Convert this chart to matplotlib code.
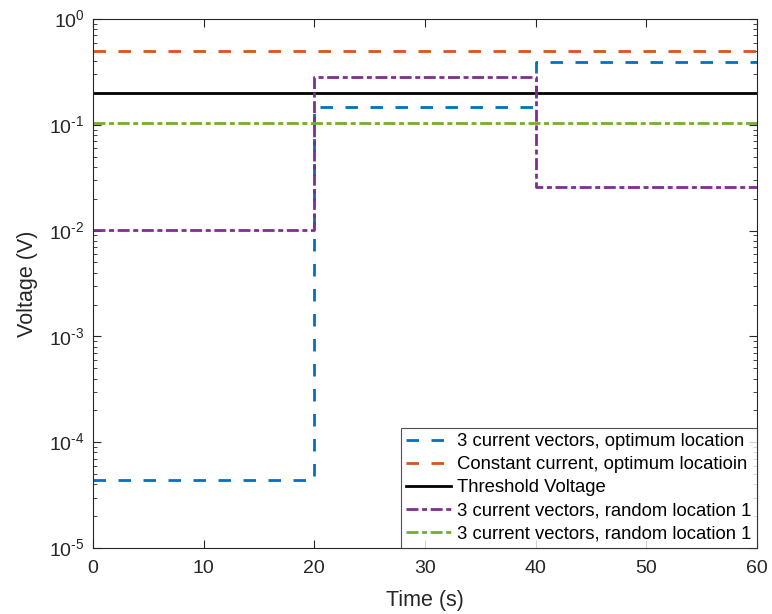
import matplotlib
matplotlib.use('Agg')
import matplotlib.pyplot as plt
from matplotlib.ticker import FixedFormatter
import numpy as np

# step times (s)
t = [0, 20, 40, 60]

# voltages per interval (V), last value repeated for the step plot
v_opt = [4.4e-5, 0.148, 0.39, 0.39]
v_const = [0.5, 0.5, 0.5, 0.5]
v_thresh = [0.2, 0.2, 0.2, 0.2]
v_rand1 = [0.0101, 0.285, 0.0258, 0.0258]
v_rand2 = [0.104, 0.104, 0.104, 0.104]

labels = ['3 current vectors, optimum location',
          'Constant current, optimum locatioin',
          'Threshold Voltage',
          '3 current vectors, random location 1',
          '3 current vectors, random location 1']

y_exps = [-5, -4, -3, -2, -1, 0]

plt.rcParams['font.family'] = ['Liberation Sans', 'DejaVu Sans']
plt.rcParams['mathtext.fontset'] = 'custom'
plt.rcParams['mathtext.rm'] = 'Liberation Sans'

dash = (4.5, 4.5)            # matlab '--'
dashdot = (4.3, 1.3, 1.8, 1.3)  # matlab '-.'

fig = plt.figure(figsize=(7.72, 6.14), dpi=100)
ax = fig.add_axes([0.1205, 0.1075, 0.86, 0.8615])

ax.plot(t, v_opt, drawstyle='steps-post', ls=(0, dash), color='#0072BD', lw=2, label=labels[0])
ax.plot(t, v_const, drawstyle='steps-post', ls=(0, dash), color='#D95319', lw=2, label=labels[1])
ax.plot(t, v_thresh, drawstyle='steps-post', ls='-', color='black', lw=2, label=labels[2])
ax.plot(t, v_rand1, drawstyle='steps-post', ls=(0, dashdot), color='#7E2F8E', lw=2, label=labels[3])
ax.plot(t, v_rand2, drawstyle='steps-post', ls=(0, dashdot), color='#77AC30', lw=2, label=labels[4])

ax.set_yscale('log')
ax.set_xlim(0, 60)
ax.set_ylim(1e-5, 1)
ax.set_xticks(np.arange(0, 61, 10))
ax.set_yticks([10.0 ** e for e in y_exps])
ax.yaxis.set_major_formatter(FixedFormatter(
    ['10$^{\\mathregular{' + str(e).replace('-', '\u2010') + '}}$' for e in y_exps]))

grey = '#262626'
for s in ax.spines.values():
    s.set_color(grey)
    s.set_linewidth(0.8)
ax.tick_params(which='both', direction='in', top=True, right=True, colors=grey, labelsize=14)
ax.tick_params(axis='x', pad=9)
ax.tick_params(axis='y', pad=6)
ax.tick_params(which='major', length=6)
ax.tick_params(which='minor', length=3)

ax.set_xlabel('Time (s)', fontsize=15.5, color=grey, labelpad=9)
ax.set_ylabel('Voltage (V)', fontsize=15.5, color=grey, labelpad=8)

leg = ax.legend(loc='lower right', fontsize=13.3, frameon=True, fancybox=False,
                edgecolor=grey, borderaxespad=0, handlelength=2.45,
                borderpad=0.3, labelspacing=0.33, handletextpad=0.3)
leg.get_frame().set_linewidth(0.8)

fig.savefig('out.png', dpi=100)
